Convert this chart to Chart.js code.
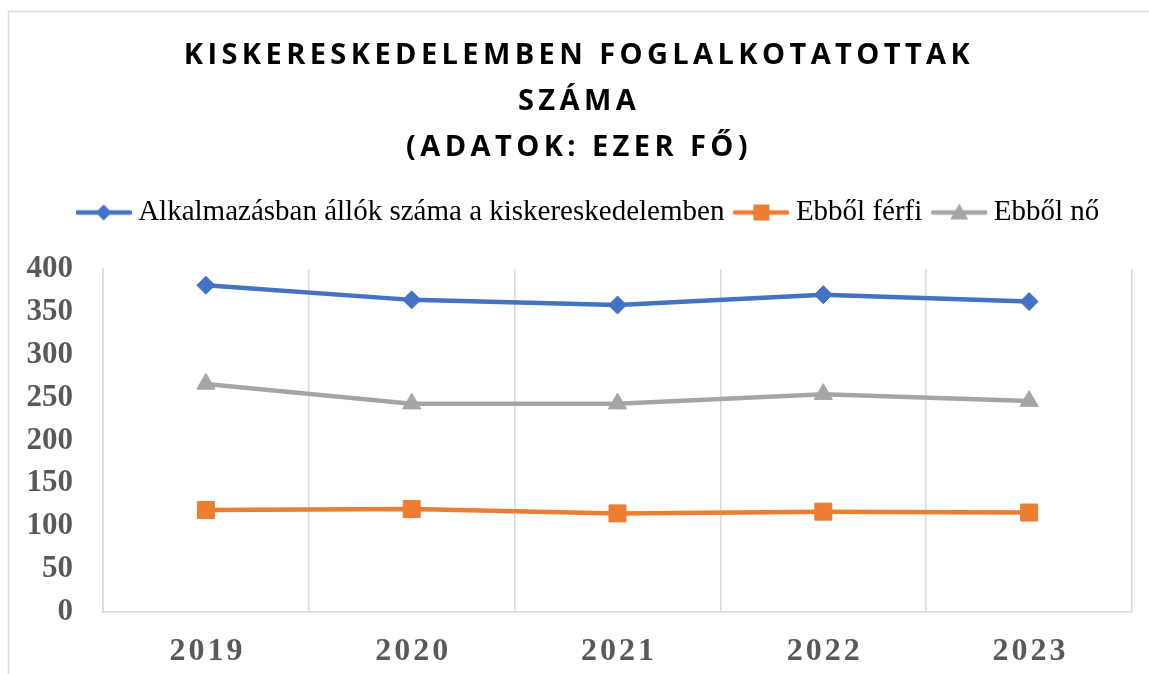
<!DOCTYPE html>
<html lang="hu">
<head>
<meta charset="utf-8">
<title>Kiskereskedelemben foglalkoztatottak száma</title>
<script src="https://cdn.jsdelivr.net/npm/chart.js@4.4.1/dist/chart.umd.min.js"></script>
<style>
  html, body { margin: 0; padding: 0; background: #fff; }
  #wrap { position: relative; width: 1149px; height: 674px; }
</style>
</head>
<body>
<div id="wrap"><canvas id="retailChart"></canvas></div>
<script>
// chart data (ezer fő)
const years = ["2019", "2020", "2021", "2022", "2023"];
const totalEmployed = [381, 364, 358, 370, 362];
const maleEmployed = [119, 120, 115, 117, 116];
const femaleEmployed = [266, 243, 243, 254, 246];

const seriesLabels = [
  "Alkalmazásban állók száma a kiskereskedelemben",
  "Ebből férfi",
  "Ebből nő",
];
const titleLines = ["KISKERESKEDELEMBEN FOGLALKOTATOTTAK", "SZÁMA", "(ADATOK: EZER FŐ)"];
const yMin = 0;
const yMax = 400;
const yStep = 50;

const BLUE = "#4472C4";
const ORANGE = "#ED7D31";
const GRAY = "#A5A5A5";
const AXIS_GRAY = "#D9D9D9";
const TICK_GRAY = "#595959";

// small canvas used as legend symbol: line with marker in the middle
function makeLegendIcon(color, shape) {
  const c = document.createElement("canvas");
  c.width = 56;
  c.height = 22;
  const g = c.getContext("2d");
  const cx = 28, cy = 11;
  g.strokeStyle = color;
  g.fillStyle = color;
  g.lineWidth = 4.5;
  g.lineCap = "round";
  g.beginPath();
  g.moveTo(2, cy);
  g.lineTo(54, cy);
  g.stroke();
  g.beginPath();
  if (shape === "diamond") {
    g.moveTo(cx - 8, cy);
    g.lineTo(cx, cy - 8);
    g.lineTo(cx + 8, cy);
    g.lineTo(cx, cy + 8);
  } else if (shape === "square") {
    g.rect(cx - 8, cy - 8, 16, 16);
  } else {
    g.moveTo(cx, cy - 9);
    g.lineTo(cx + 9, cy + 7);
    g.lineTo(cx - 9, cy + 7);
  }
  g.closePath();
  g.fill();
  return c;
}

const legendIcons = [
  makeLegendIcon(BLUE, "diamond"),
  makeLegendIcon(ORANGE, "square"),
  makeLegendIcon(GRAY, "triangle"),
];

// legend box: extra gap below it, and nudged right of the y axis
const legendSpacing = {
  id: "legendSpacing",
  beforeInit(chart) {
    const legend = chart.legend;
    if (!legend) return;
    const fit = legend.fit.bind(legend);
    legend.fit = function () {
      fit();
      this.height += 32;
    };
  },
  afterLayout(chart) {
    if (chart.legend) chart.legend.left += 51;
  },
};

// title with letter spacing + outer frame
const titleAndFrame = {
  id: "titleAndFrame",
  afterDraw(chart) {
    const ctx = chart.ctx;
    ctx.save();
    ctx.strokeStyle = AXIS_GRAY;
    ctx.lineWidth = 1.5;
    ctx.strokeRect(8.5, 11.5, 3000, 3000);

    ctx.fillStyle = "#000";
    ctx.font = "bold 29px 'Open Sans'";
    ctx.letterSpacing = "4.4px";
    ctx.textAlign = "center";
    ctx.textBaseline = "middle";
    const cx = 579;
    titleLines.forEach((line, i) => {
      ctx.fillText(line, cx, 56 + i * 46);
    });
    ctx.restore();
  },
};

// x labels drawn with letter spacing at the category positions
const spacedXLabels = {
  id: "spacedXLabels",
  afterDraw(chart) {
    const xScale = chart.scales.x;
    const ctx = chart.ctx;
    ctx.save();
    ctx.fillStyle = TICK_GRAY;
    ctx.font = "bold 32px 'Liberation Serif'";
    ctx.letterSpacing = "3px";
    ctx.textAlign = "center";
    ctx.textBaseline = "middle";
    years.forEach((y, i) => {
      ctx.fillText(y, xScale.getPixelForValue(i) + 1.5, chart.chartArea.bottom + 40);
    });
    ctx.restore();
  },
};

const ctx = document.getElementById("retailChart").getContext("2d");
new Chart(ctx, {
  type: "line",
  data: {
    labels: years,
    datasets: [
      {
        label: seriesLabels[0],
        data: totalEmployed,
        borderColor: BLUE,
        backgroundColor: BLUE,
        borderWidth: 4.5,
        pointStyle: "rectRot",
        pointRadius: 9,
        pointBorderWidth: 1,
        tension: 0,
      },
      {
        label: seriesLabels[1],
        data: maleEmployed,
        borderColor: ORANGE,
        backgroundColor: ORANGE,
        borderWidth: 4.5,
        pointStyle: "rect",
        pointRadius: 12,
        pointBorderWidth: 1,
        tension: 0,
      },
      {
        label: seriesLabels[2],
        data: femaleEmployed,
        borderColor: GRAY,
        backgroundColor: GRAY,
        borderWidth: 4.5,
        pointStyle: "triangle",
        pointRadius: 10.5,
        pointBorderWidth: 1,
        tension: 0,
      },
    ],
  },
  options: {
    responsive: true,
    maintainAspectRatio: false,
    animation: false,
    layout: { padding: { top: 181, left: 0, right: 17, bottom: 62 } },
    plugins: {
      title: { display: false },
      tooltip: { enabled: false },
      legend: {
        position: "top",
        align: "center",
        labels: {
          usePointStyle: true,
          pointStyleWidth: 40,
          padding: 17,
          color: "#000",
          font: { family: "'Liberation Serif'", size: 29 },
          generateLabels(chart) {
            const items = Chart.defaults.plugins.legend.labels.generateLabels(chart);
            items.forEach((it, i) => { it.pointStyle = legendIcons[i]; });
            return items;
          },
        },
      },
    },
    scales: {
      x: {
        offset: true,
        grid: { display: true, offset: true, color: AXIS_GRAY, lineWidth: 1.5, drawTicks: false },
        border: { display: true, color: AXIS_GRAY, width: 1.5 },
        ticks: { display: false },
      },
      y: {
        min: yMin,
        max: yMax,
        grid: { display: false, drawTicks: false },
        border: { display: true, color: AXIS_GRAY, width: 1.5 },
        ticks: {
          stepSize: yStep,
          padding: 30,
          color: TICK_GRAY,
          font: { family: "'Liberation Serif'", size: 31, weight: "bold" },
        },
        afterFit(scale) {
          scale.width = 103;
        },
      },
    },
  },
  plugins: [legendSpacing, titleAndFrame, spacedXLabels],
});
</script>
</body>
</html>
